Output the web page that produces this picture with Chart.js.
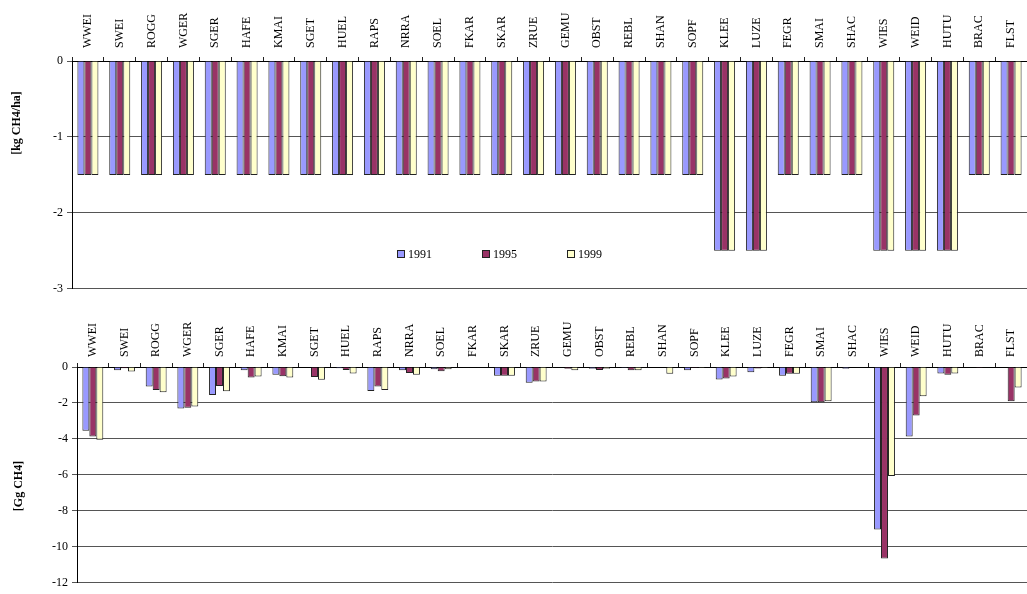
<!DOCTYPE html>
<html>
<head>
<meta charset="utf-8">
<script src="https://cdn.jsdelivr.net/npm/chart.js@4/dist/chart.umd.min.js"></script>
<style>
  html, body { margin: 0; padding: 0; background: #fff; }
  body { width: 1027px; height: 594px; position: relative; overflow: hidden; font-family: "Liberation Serif", "Times New Roman", serif; }
  canvas { position: absolute; left: 0; }
  #legend { position: absolute; left: 397px; top: 247px; height: 16px; font-size: 12px; color: #000; }
  .item { position: absolute; top: 0; white-space: nowrap; line-height: 14px; }
  .sw { display: inline-block; width: 6px; height: 6px; border: 1px solid #222; margin-right: 3px; vertical-align: 0px; }
</style>
</head>
<body>
<canvas id="top" width="1027" height="300" style="top:0"></canvas>
<canvas id="bottom" width="1027" height="299" style="top:295px"></canvas>
<div id="legend"></div>
<script>
const categories = ["WWEI","SWEI","ROGG","WGER","SGER","HAFE","KMAI","SGET","HUEL","RAPS",
  "NRRA","SOEL","FKAR","SKAR","ZRUE","GEMU","OBST","REBL","SHAN","SOPF",
  "KLEE","LUZE","FEGR","SMAI","SHAC","WIES","WEID","HUTU","BRAC","FLST"];
const years = ["1991","1995","1999"];
const colors = ["#9999FF","#993366","#FFFFCC"];

// Emission factor [kg CH4/ha]
const kgHa1991 = [-1.5,-1.5,-1.5,-1.5,-1.5,-1.5,-1.5,-1.5,-1.5,-1.5,-1.5,-1.5,-1.5,-1.5,-1.5,-1.5,-1.5,-1.5,-1.5,-1.5,-2.5,-2.5,-1.5,-1.5,-1.5,-2.5,-2.5,-2.5,-1.5,-1.5];
const kgHa1995 = [-1.5,-1.5,-1.5,-1.5,-1.5,-1.5,-1.5,-1.5,-1.5,-1.5,-1.5,-1.5,-1.5,-1.5,-1.5,-1.5,-1.5,-1.5,-1.5,-1.5,-2.5,-2.5,-1.5,-1.5,-1.5,-2.5,-2.5,-2.5,-1.5,-1.5];
const kgHa1999 = [-1.5,-1.5,-1.5,-1.5,-1.5,-1.5,-1.5,-1.5,-1.5,-1.5,-1.5,-1.5,-1.5,-1.5,-1.5,-1.5,-1.5,-1.5,-1.5,-1.5,-2.5,-2.5,-1.5,-1.5,-1.5,-2.5,-2.5,-2.5,-1.5,-1.5];

// Total emissions [Gg CH4]
const gg1991 = [-3.54,-0.18,-1.08,-2.31,-1.56,-0.18,-0.43,0,-0.07,-1.33,-0.18,-0.12,-0.02,-0.48,-0.87,-0.02,-0.1,-0.05,-0.03,-0.18,-0.69,-0.29,-0.48,-1.96,-0.1,-9.03,-3.86,-0.36,0,0];
const gg1995 = [-3.86,-0.07,-1.28,-2.26,-1.05,-0.59,-0.52,-0.55,-0.16,-1.08,-0.34,-0.23,-0.02,-0.48,-0.8,-0.1,-0.16,-0.18,-0.03,-0.05,-0.64,-0.08,-0.37,-1.96,-0.03,-10.65,-2.7,-0.43,-0.05,-1.9];
const gg1999 = [-4.05,-0.25,-1.4,-2.2,-1.35,-0.53,-0.59,-0.71,-0.36,-1.28,-0.43,-0.12,-0.02,-0.48,-0.8,-0.18,-0.1,-0.18,-0.37,-0.05,-0.53,-0.06,-0.37,-1.9,-0.02,-6.06,-1.62,-0.36,-0.02,-1.14];

const FONT = "'Liberation Serif', 'Times New Roman', serif";

function makeDatasets(series) {
  return series.map((data, i) => ({
    label: years[i],
    data: data,
    backgroundColor: colors[i],
    borderColor: "#222",
    borderWidth: 1,
    categoryPercentage: 0.66,
    barPercentage: 1.0
  }));
}

function yTitlePlugin(text, x, y) {
  return {
    id: "ytitle",
    afterDraw(chart) {
      const ctx = chart.ctx;
      ctx.save();
      ctx.translate(x, y);
      ctx.rotate(-Math.PI / 2);
      ctx.font = "bold 12px " + FONT;
      ctx.fillStyle = "#000";
      ctx.textAlign = "center";
      ctx.textBaseline = "middle";
      ctx.fillText(text, 0, 0);
      ctx.restore();
    }
  };
}

function makeChart(id, series, yMin, yStep, xHeight, yWidth, padBottom, labelPad, title, tx, ty) {
  return new Chart(document.getElementById(id), {
    type: "bar",
    data: { labels: categories, datasets: makeDatasets(series) },
    options: {
      responsive: false,
      animation: false,
      layout: { padding: { left: 0, right: 0, top: 0, bottom: padBottom } },
      plugins: { legend: { display: false }, tooltip: { enabled: false } },
      scales: {
        x: {
          position: "top",
          afterFit(scale) { scale.height = xHeight; },
          grid: { offset: true, drawOnChartArea: false, drawTicks: true, tickLength: 4, color: "#222" },
          border: { display: true, color: "#000", width: 1 },
          ticks: {
            autoSkip: false, minRotation: 90, maxRotation: 90, padding: labelPad,
            labelOffset: 14.4,
            color: "#000", font: { family: FONT, size: 12 }
          }
        },
        y: {
          min: yMin, max: 0,
          afterFit(scale) { scale.width = yWidth; },
          grid: { color: "#555", lineWidth: 1, tickLength: 5 },
          border: { display: true, color: "#000", width: 1 },
          ticks: { stepSize: yStep, padding: 4, color: "#000", font: { family: FONT, size: 12 } }
        }
      }
    },
    plugins: [yTitlePlugin(title, tx, ty)]
  });
}

makeChart("top", [kgHa1991, kgHa1995, kgHa1999], -3, 1, 61, 72, 11, 9, "[kg CH4/ha]", 17, 123);
makeChart("bottom", [gg1991, gg1995, gg1999], -12, 2, 72, 77, 1, 6, "[Gg CH4]", 19, 191);

// legend
const legend = document.getElementById("legend");
years.forEach((y, i) => {
  const d = document.createElement("div");
  d.className = "item";
  d.style.left = (i * 85) + "px";
  d.innerHTML = '<span class="sw" style="background:' + colors[i] + '"></span>' + y;
  legend.appendChild(d);
});
</script>
</body>
</html>
